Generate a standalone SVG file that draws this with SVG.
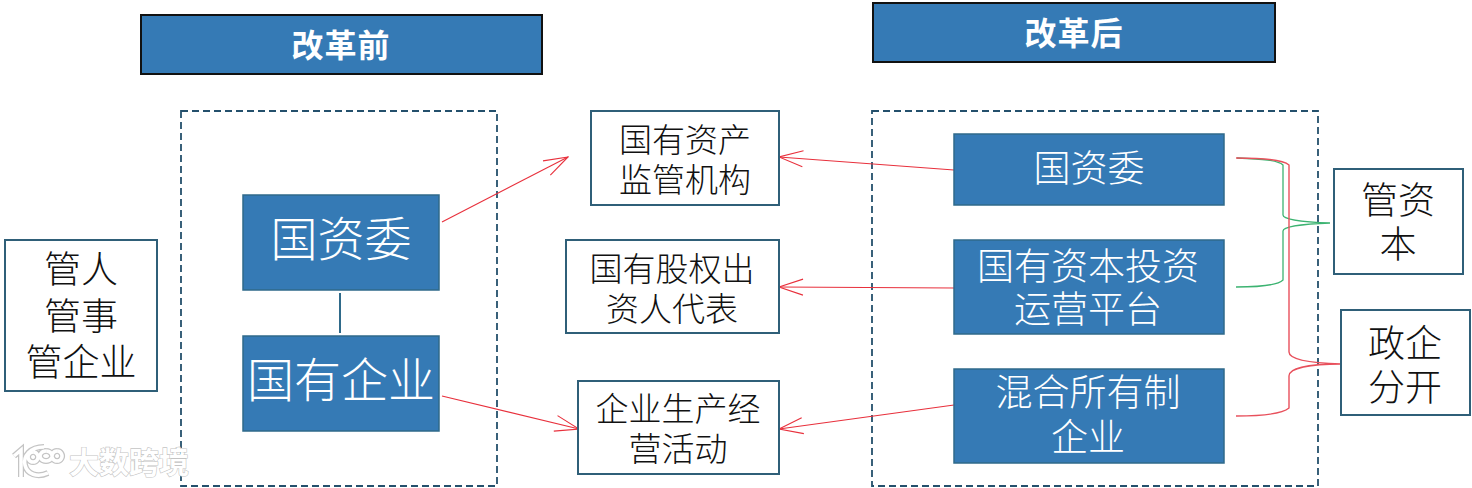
<svg xmlns="http://www.w3.org/2000/svg" width="1472" height="488" viewBox="0 0 1472 488">
<style>
text{font-family:"Noto Sans CJK SC","Noto Sans",sans-serif;text-anchor:middle}
.hd{fill:#357ab5;stroke:#111;stroke-width:2}
.hdt{fill:#fff;font-size:32px;font-weight:700;letter-spacing:1px}
.dash{fill:none;stroke:#24506c;stroke-width:1.8;stroke-dasharray:7 4}
.blue{fill:#357ab5;stroke:#2f6a8a;stroke-width:1.5}
.bt{fill:#fff;font-weight:300}
.box{fill:#fff;stroke:#2f5f78;stroke-width:2}
.dt{fill:#111;font-weight:300}
.red{fill:none;stroke:#e8303c;stroke-width:1.1}
.brace-r{fill:none;stroke:#e8505c;stroke-width:1.4}
.brace-g{fill:none;stroke:#3cb371;stroke-width:1.3}
.wm{fill:#fff;stroke:#c4c4c4;stroke-width:1.2;paint-order:stroke}
</style>
<defs>
<marker id="a" markerWidth="26" markerHeight="20" refX="25" refY="10" orient="auto" markerUnits="userSpaceOnUse"><path d="M1 2L25 10L1 18" fill="none" stroke="#e8303c" stroke-width="1.1"/></marker>
</defs>
<g id="frames">
<rect class="dash" x="181" y="111" width="316" height="375"/>
<rect class="dash" x="872" y="111" width="446" height="375"/>
</g>
<g id="header-before"><rect class="hd" x="141" y="15" width="401" height="59"/><text class="hdt" x="341" y="57">改革前</text></g>
<g id="header-after"><rect class="hd" x="873" y="3" width="402" height="59"/><text class="hdt" x="1074" y="45">改革后</text></g>
<g id="connectors">
<line x1="340" y1="293" x2="340" y2="333" stroke="#2f6a8a" stroke-width="2"/>
<line class="red" x1="442" y1="222" x2="568" y2="157" marker-end="url(#a)"/>
<line class="red" x1="442" y1="396" x2="579" y2="429" marker-end="url(#a)"/>
<line class="red" x1="954" y1="170" x2="779" y2="157" marker-end="url(#a)"/>
<line class="red" x1="954" y1="288" x2="779" y2="287" marker-end="url(#a)"/>
<line class="red" x1="954" y1="405" x2="779" y2="429" marker-end="url(#a)"/>
<path class="brace-g" d="M1237 158C1262 159 1278 160 1283 165V215C1283 219 1300 222 1330 223C1300 224 1283 227 1283 231V280C1278 285 1262 287 1236 287"/>
<path class="brace-r" d="M1236 158C1265 158 1283 160 1289 165V352C1289 360 1310 363 1341 364C1310 364 1289 368 1289 376V408C1283 413 1265 416 1236 416"/>
</g>
<g id="guan-ren"><rect class="box" x="5" y="240" width="152" height="151"/><text class="dt" font-size="37"><tspan x="81" y="283">管人</tspan><tspan x="81" y="330">管事</tspan><tspan x="81" y="376">管企业</tspan></text></g>
<g id="gzw-before"><rect class="blue" x="243" y="195" width="196" height="95"/><text class="bt" x="341" y="256" font-size="47">国资委</text></g>
<g id="soe-before"><rect class="blue" x="243" y="336" width="196" height="95"/><text class="bt" x="341" y="397" font-size="47">国有企业</text></g>
<g id="regulator"><rect class="box" x="591" y="111" width="188" height="94"/><text class="dt" font-size="33"><tspan x="685" y="152">国有资产</tspan><tspan x="685" y="192">监管机构</tspan></text></g>
<g id="investor"><rect class="box" x="566" y="240" width="213" height="93"/><text class="dt" font-size="33"><tspan x="672" y="281">国有股权出</tspan><tspan x="672" y="321">资人代表</tspan></text></g>
<g id="operations"><rect class="box" x="578" y="381" width="201" height="93"/><text class="dt" font-size="33"><tspan x="678" y="421">企业生产经</tspan><tspan x="678" y="461">营活动</tspan></text></g>
<g id="gzw-after"><rect class="blue" x="954" y="134" width="270" height="71"/><text class="bt" x="1089" y="182" font-size="37">国资委</text></g>
<g id="platform"><rect class="blue" x="954" y="240" width="270" height="94"/><text class="bt" font-size="37"><tspan x="1088" y="280">国有资本投资</tspan><tspan x="1088" y="323">运营平台</tspan></text></g>
<g id="mixed"><rect class="blue" x="954" y="369" width="270" height="94"/><text class="bt" font-size="37"><tspan x="1088" y="406">混合所有制</tspan><tspan x="1088" y="451">企业</tspan></text></g>
<g id="manage-capital"><rect class="box" x="1334" y="169" width="129" height="105"/><text class="dt" font-size="37"><tspan x="1398" y="214">管资</tspan><tspan x="1398" y="258">本</tspan></text></g>
<g id="separation"><rect class="box" x="1341" y="310" width="129" height="105"/><text class="dt" font-size="37"><tspan x="1405" y="357">政企</tspan><tspan x="1405" y="401">分开</tspan></text></g>
<g id="watermark">
<path d="M14 456L21 450V477M44 447C30 447 23 456 25 465C27 474 37 478 48 473M33 452a5 5 0 1 0 .1 0M46 451a6 5 0 1 0 .1 0M57 451a5 5 0 1 0 .1 0" fill="none" stroke="#c4c4c4" stroke-width="6"/>
<path d="M14 456L21 450V477M44 447C30 447 23 456 25 465C27 474 37 478 48 473M33 452a5 5 0 1 0 .1 0M46 451a6 5 0 1 0 .1 0M57 451a5 5 0 1 0 .1 0" fill="none" stroke="#fff" stroke-width="3.5"/>
<text class="wm" x="129" y="473" font-size="30" font-weight="700">大数跨境</text>
</g>
</svg>
